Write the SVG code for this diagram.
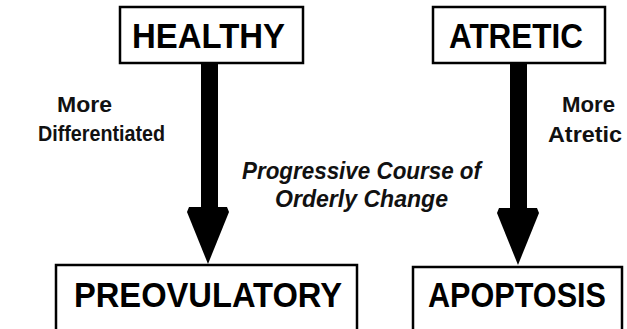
<svg xmlns="http://www.w3.org/2000/svg" width="627" height="329" viewBox="0 0 627 329">
<style>
.box{fill:#fff;stroke:#000;stroke-width:2.5}
.big{font-family:"Liberation Sans",Arial,sans-serif;font-weight:bold;font-size:35px;fill:#000}
.lbl{font-family:"Liberation Sans",Arial,sans-serif;font-weight:bold;font-size:22px;fill:#111}
.it{font-family:"Liberation Sans",Arial,sans-serif;font-weight:bold;font-style:italic;font-size:23px;fill:#111}
.arr{fill:#000}
</style>
<rect width="627" height="329" fill="#fff"/>
<g id="connectors">
<rect class="arr" x="201" y="63" width="17" height="146"/>
<polygon class="arr" points="189,207 227,207 229,212 208,264 187,212"/>
<rect class="arr" x="510" y="63" width="17" height="147"/>
<polygon class="arr" points="499,208 537,208 539,213 518,265 497,213"/>
</g>
<g id="healthy">
<rect class="box" x="120" y="7" width="183" height="56"/>
<text class="big" x="132" y="48" textLength="153" lengthAdjust="spacingAndGlyphs">HEALTHY</text>
</g>
<g id="atretic">
<rect class="box" x="433" y="7" width="172" height="56"/>
<text class="big" x="449" y="48" textLength="134" lengthAdjust="spacingAndGlyphs">ATRETIC</text>
</g>
<g id="preovulatory">
<rect class="box" x="56" y="265" width="301" height="80"/>
<text class="big" x="74" y="307" textLength="268" lengthAdjust="spacingAndGlyphs">PREOVULATORY</text>
</g>
<g id="apoptosis">
<rect class="box" x="413" y="267" width="209" height="80"/>
<text class="big" x="428" y="307" textLength="178" lengthAdjust="spacingAndGlyphs">APOPTOSIS</text>
</g>
<g id="labels">
<text class="lbl" x="57" y="112" textLength="55" lengthAdjust="spacingAndGlyphs">More</text>
<text class="lbl" x="38" y="141" textLength="127" lengthAdjust="spacingAndGlyphs">Differentiated</text>
<text class="lbl" x="562" y="112" textLength="53" lengthAdjust="spacingAndGlyphs">More</text>
<text class="lbl" x="548" y="142" textLength="74" lengthAdjust="spacingAndGlyphs">Atretic</text>
<text class="it" x="242" y="179" textLength="239" lengthAdjust="spacingAndGlyphs">Progressive Course of</text>
<text class="it" x="275" y="207" textLength="173" lengthAdjust="spacingAndGlyphs">Orderly Change</text>
</g>
</svg>
